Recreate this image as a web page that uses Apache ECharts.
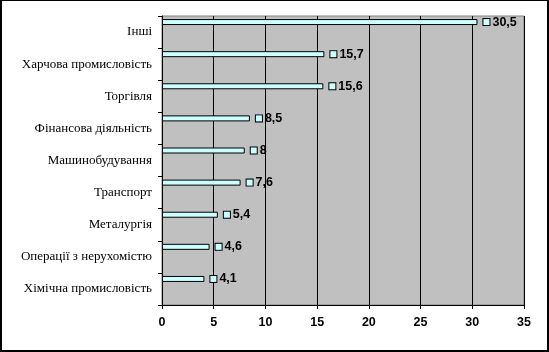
<!DOCTYPE html>
<html>
<head>
<meta charset="utf-8">
<script src="https://cdn.jsdelivr.net/npm/echarts@6/dist/echarts.min.js"></script>
<style>
  html, body { margin: 0; padding: 0; background: #fff; }
  #wrap { position: relative; width: 549px; height: 352px; }
  #chart { position: absolute; left: 0; top: 0; width: 549px; height: 352px; }
  #frame { position: absolute; left: 0; top: 0; width: 549px; height: 352px; box-sizing: border-box;
           border-style: solid; border-color: #000; border-width: 1px 2px 2px 2px; pointer-events: none; }
</style>
</head>
<body>
<div id="wrap">
  <div id="chart"></div>
  <div id="frame"></div>
</div>
<script>
// Sectors, top to bottom
const categories = [
  'Інші',
  'Харчова промисловість',
  'Торгівля',
  'Фінансова діяльність',
  'Машинобудування',
  'Транспорт',
  'Металургія',
  'Операції з нерухомістю',
  'Хімічна промисловість'
];
// Share values per sector
const values = [30.5, 15.7, 15.6, 8.5, 8, 7.6, 5.4, 4.6, 4.1];
// Value axis ticks
const xMin = 0, xMax = 35, xStep = 5;

const chart = echarts.init(document.getElementById('chart'), null, { renderer: 'canvas' });

const fmt = v => String(v).replace('.', ',');

chart.setOption({
  animation: false,
  backgroundColor: '#ffffff',
  grid: {
    left: 162, top: 16, right: 25, bottom: 47,
    show: true, backgroundColor: '#C0C0C0', borderColor: '#808080', borderWidth: 1
  },
  xAxis: {
    type: 'value', min: xMin, max: xMax, interval: xStep,
    axisLine: { show: true, lineStyle: { color: '#000', width: 1 } },
    axisTick: { show: true, length: 4, lineStyle: { color: '#000' } },
    splitLine: { show: true, lineStyle: { color: '#000', width: 1 } },
    axisLabel: { color: '#000', fontFamily: 'Liberation Sans, Arial', fontWeight: 'bold', fontSize: 12.5, margin: 11 }
  },
  yAxis: {
    type: 'category', data: categories, inverse: true,
    axisLine: { show: true, lineStyle: { color: '#000', width: 1 } },
    axisTick: { show: true, length: 4, lineStyle: { color: '#000' } },
    axisLabel: { color: '#000', fontFamily: 'Liberation Serif, Times New Roman', fontSize: 13, margin: 10 }
  },
  series: [
    {
      type: 'bar', data: values, barWidth: 6, barGap: 0,
      itemStyle: { color: '#CCFFFF', borderColor: '#000', borderWidth: 1 },
      label: {
        show: true, position: 'right', distance: 6,
        formatter: p => '{k|}{v|' + fmt(p.value) + '}',
        rich: {
          k: { width: 6, height: 6, backgroundColor: '#CCFFFF', borderColor: '#000', borderWidth: 1 },
          v: { color: '#000', fontFamily: 'Liberation Sans, Arial', fontWeight: 'bold', fontSize: 12.5, padding: [0, 0, 0, 3] }
        }
      }
    },
    {
      // empty companion series: keeps the bars in the upper part of each band
      type: 'bar', data: categories.map(() => '-'), barWidth: 20, barGap: 0,
      itemStyle: { color: 'transparent' }, silent: true
    }
  ]
});
</script>
</body>
</html>
